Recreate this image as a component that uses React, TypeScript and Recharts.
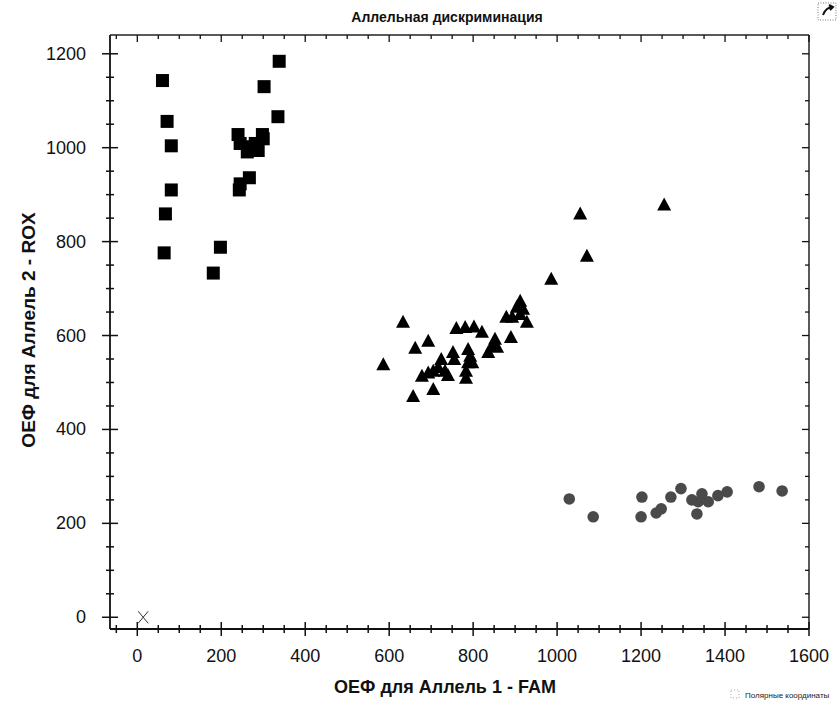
import { ScatterChart, Scatter, XAxis, YAxis } from "recharts";

// ── Data ──────────────────────────────────────────────────────────────────────

// Allele 2 homozygotes (black squares)
const allele2 = [
  { x: 60, y: 1143 }, { x: 71, y: 1056 }, { x: 81, y: 1004 }, { x: 81, y: 910 },
  { x: 67, y: 859 }, { x: 64, y: 776 }, { x: 198, y: 788 }, { x: 181, y: 733 },
  { x: 338, y: 1184 }, { x: 302, y: 1130 }, { x: 335, y: 1066 }, { x: 240, y: 1028 },
  { x: 245, y: 1009 }, { x: 264, y: 1002 }, { x: 281, y: 1009 }, { x: 298, y: 1028 },
  { x: 288, y: 994 }, { x: 262, y: 991 }, { x: 300, y: 1019 }, { x: 245, y: 923 },
  { x: 267, y: 936 }, { x: 243, y: 910 },
];

// Heterozygotes (black triangles)
const hetero = [
  { x: 1255, y: 878 }, { x: 1055, y: 859 }, { x: 1071, y: 769 }, { x: 986, y: 720 },
  { x: 912, y: 673 }, { x: 904, y: 660 }, { x: 919, y: 656 }, { x: 879, y: 639 },
  { x: 893, y: 639 }, { x: 928, y: 628 }, { x: 912, y: 645 }, { x: 890, y: 596 },
  { x: 852, y: 592 }, { x: 845, y: 577 }, { x: 836, y: 564 }, { x: 857, y: 575 },
  { x: 821, y: 607 }, { x: 802, y: 618 }, { x: 781, y: 617 }, { x: 760, y: 615 },
  { x: 633, y: 628 }, { x: 693, y: 588 }, { x: 662, y: 573 }, { x: 586, y: 538 },
  { x: 788, y: 570 }, { x: 793, y: 556 }, { x: 788, y: 542 }, { x: 798, y: 542 },
  { x: 783, y: 524 }, { x: 783, y: 509 }, { x: 752, y: 564 }, { x: 755, y: 549 },
  { x: 724, y: 549 }, { x: 717, y: 532 }, { x: 733, y: 524 }, { x: 740, y: 515 },
  { x: 705, y: 524 }, { x: 693, y: 520 }, { x: 678, y: 513 }, { x: 705, y: 485 },
  { x: 657, y: 470 },
];

// Allele 1 homozygotes (grey circles)
const allele1 = [
  { x: 1029, y: 252 }, { x: 1086, y: 214 }, { x: 1202, y: 256 }, { x: 1200, y: 214 },
  { x: 1236, y: 222 }, { x: 1248, y: 231 }, { x: 1271, y: 256 }, { x: 1295, y: 274 },
  { x: 1321, y: 250 }, { x: 1345, y: 263 }, { x: 1336, y: 246 }, { x: 1360, y: 246 },
  { x: 1333, y: 220 }, { x: 1383, y: 259 }, { x: 1405, y: 267 }, { x: 1481, y: 278 },
  { x: 1536, y: 269 },
];

// No-template control
const ntc = [{ x: 14, y: 0 }];

const X_TICKS = [
  -50, 0, 50, 100, 150, 200, 250, 300, 350, 400, 450, 500, 550, 600, 650, 700, 750,
  800, 850, 900, 950, 1000, 1050, 1100, 1150, 1200, 1250, 1300, 1350, 1400, 1450,
  1500, 1550, 1600,
];
const Y_TICKS = [
  0, 50, 100, 150, 200, 250, 300, 350, 400, 450, 500, 550, 600, 650, 700, 750, 800,
  850, 900, 950, 1000, 1050, 1100, 1150, 1200,
];

const FONT = "'Liberation Sans', Arial, sans-serif";
const isMajor = (v: number) => v % 200 === 0;

// ── Custom ticks ──────────────────────────────────────────────────────────────

function BottomTick({ x, y, payload }: any) {
  const h = isMajor(payload.value) ? 7 : 4;
  return (
    <g>
      <line x1={x} x2={x} y1={y - h} y2={y + h} stroke="#111" strokeWidth={1.5} />
      {isMajor(payload.value) && payload.value >= 0 && (
        <text x={x} y={y + 33} textAnchor="middle" fontSize={18} fontFamily={FONT} fill="#111">
          {payload.value}
        </text>
      )}
    </g>
  );
}

function LeftTick({ x, y, payload }: any) {
  const w = isMajor(payload.value) ? 8 : 4;
  return (
    <g>
      <line x1={x - w} x2={x + w} y1={y} y2={y} stroke="#111" strokeWidth={1.5} />
      {isMajor(payload.value) && (
        <text x={x - 24} y={y + 6} textAnchor="end" fontSize={18} fontFamily={FONT} fill="#111">
          {payload.value}
        </text>
      )}
    </g>
  );
}

function TopTick({ x, y, payload }: any) {
  const h = isMajor(payload.value) ? 7 : 4;
  return <line x1={x} x2={x} y1={y} y2={y + h} stroke="#111" strokeWidth={1.3} />;
}

function RightTick({ x, y, payload }: any) {
  const w = isMajor(payload.value) ? 7 : 4;
  return <line x1={x - w} x2={x} y1={y} y2={y} stroke="#111" strokeWidth={1.3} />;
}

// ── Marker shapes ─────────────────────────────────────────────────────────────

const SquareDot = ({ cx, cy }: any) => (
  <rect x={cx - 6.5} y={cy - 6.5} width={13} height={13} fill="#000" />
);

const TriangleDot = ({ cx, cy }: any) => (
  <path d={`M${cx},${cy - 7.5} L${cx + 7},${cy + 5.5} L${cx - 7},${cy + 5.5} Z`} fill="#000" />
);

const CircleDot = ({ cx, cy }: any) => <circle cx={cx} cy={cy} r={5.8} fill="#4a4a4a" />;

const CrossDot = ({ cx, cy }: any) => (
  <g stroke="#333" strokeWidth={1}>
    <line x1={cx - 5} y1={cy - 6} x2={cx + 5} y2={cy + 6} />
    <line x1={cx + 5} y1={cy - 6} x2={cx - 5} y2={cy + 6} />
  </g>
);

// ── Main export ───────────────────────────────────────────────────────────────

export default function App() {
  return (
    <div style={{ position: "absolute", left: 0, top: 0, width: 837, height: 709, background: "#fff" }}>
      <ScatterChart width={837} height={709} margin={{ top: 34, right: 27, bottom: 0, left: 0 }}>
        <XAxis
          xAxisId="b"
          type="number"
          dataKey="x"
          domain={[-65, 1600]}
          ticks={X_TICKS}
          interval={0}
          height={80}
          tickSize={0}
          tickMargin={0}
          tickLine={false}
          axisLine={{ stroke: "#111", strokeWidth: 2.2 }}
          tick={(p: any) => <BottomTick {...p} />}
          allowDataOverflow
        />
        <XAxis
          xAxisId="t"
          orientation="top"
          type="number"
          dataKey="x"
          domain={[-65, 1600]}
          ticks={X_TICKS}
          interval={0}
          height={1}
          tickSize={0}
          tickMargin={0}
          tickLine={false}
          axisLine={{ stroke: "#222", strokeWidth: 1.5 }}
          tick={(p: any) => <TopTick {...p} />}
          allowDataOverflow
        />
        <YAxis
          yAxisId="l"
          type="number"
          dataKey="y"
          domain={[-25, 1240]}
          ticks={Y_TICKS}
          interval={0}
          width={110}
          tickSize={0}
          tickMargin={0}
          tickLine={false}
          axisLine={{ stroke: "#111", strokeWidth: 1.8 }}
          tick={(p: any) => <LeftTick {...p} />}
          allowDataOverflow
        />
        <YAxis
          yAxisId="r"
          orientation="right"
          type="number"
          dataKey="y"
          domain={[-25, 1240]}
          ticks={Y_TICKS}
          interval={0}
          width={1}
          tickSize={0}
          tickMargin={0}
          tickLine={false}
          axisLine={{ stroke: "#222", strokeWidth: 1.5 }}
          tick={(p: any) => <RightTick {...p} />}
          allowDataOverflow
        />
        <Scatter xAxisId="b" yAxisId="l" data={allele2} shape={SquareDot} isAnimationActive={false} />
        <Scatter xAxisId="b" yAxisId="l" data={hetero} shape={TriangleDot} isAnimationActive={false} />
        <Scatter xAxisId="b" yAxisId="l" data={allele1} shape={CircleDot} isAnimationActive={false} />
        <Scatter xAxisId="b" yAxisId="l" data={ntc} shape={CrossDot} isAnimationActive={false} />
        {/* empty series so the top and right axes get drawn */}
        <Scatter xAxisId="t" yAxisId="r" data={ntc} shape={() => <g />} isAnimationActive={false} />
      </ScatterChart>

      {/* titles and small decorations */}
      <svg
        width={837}
        height={709}
        style={{ position: "absolute", left: 0, top: 0, pointerEvents: "none" }}
        fontFamily={FONT}
      >
        <text x={447} y={22} textAnchor="middle" fontSize={14} fontWeight="bold" fill="#111">
          Аллельная дискриминация
        </text>
        <text
          x={0}
          y={0}
          transform="translate(35,330) rotate(-90)"
          textAnchor="middle"
          fontSize={19}
          fontWeight="bold"
          fill="#111"
        >
          ОЕФ для Аллель 2 - ROX
        </text>
        <text x={445} y={693} textAnchor="middle" fontSize={18} fontWeight="bold" fill="#111">
          ОЕФ для Аллель 1 - FAM
        </text>
        <rect x={731} y={690} width={8} height={8} fill="none" stroke="#aaa" strokeDasharray="1 2" />
        <text x={745} y={698} fontSize={8} fill="#222">
          Полярные координаты
        </text>
        <rect x={818} y={3} width={18} height={17} fill="none" stroke="#777" strokeDasharray="1 1.5" />
        <path d="M823,15 Q826,7 833,7 M829,5 L833,7 L830,10" fill="none" stroke="#111" strokeWidth={2} />
      </svg>
    </div>
  );
}
